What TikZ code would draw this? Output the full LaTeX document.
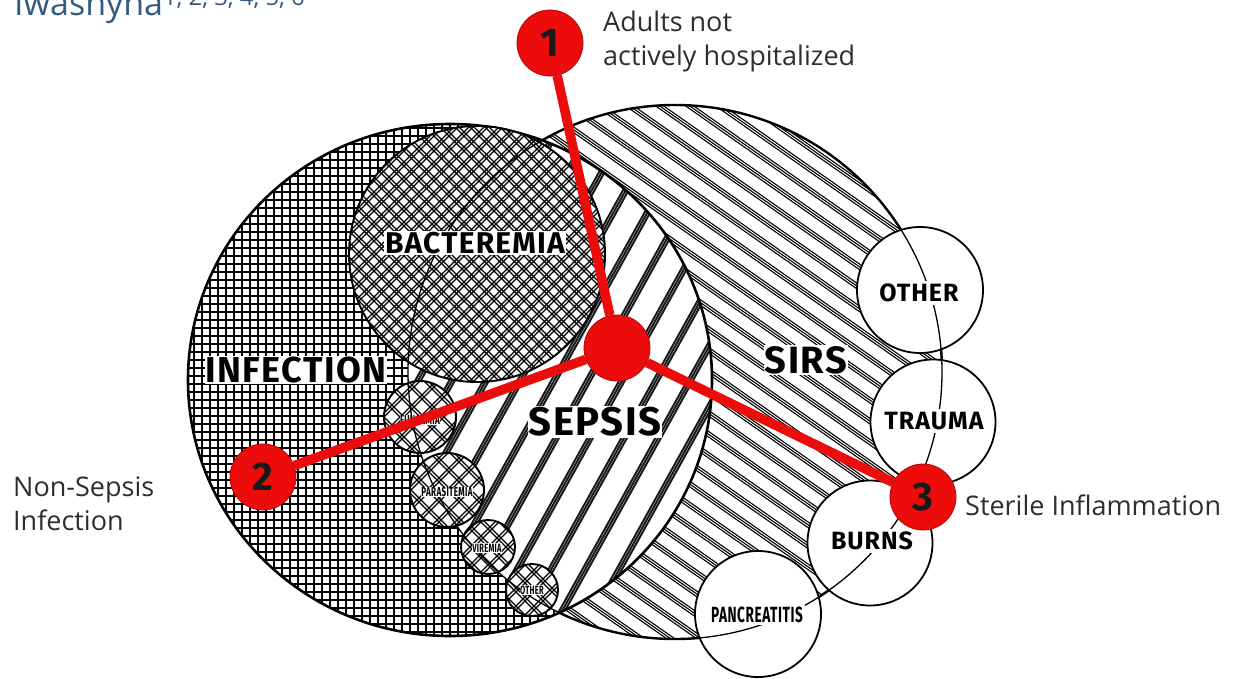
\documentclass[tikz,border=0pt]{standalone}
\usepackage{fontspec}
\usepackage{graphicx}
\setmainfont{Open Sans}
\newfontfamily\diafont{Fira Sans}[LetterSpace=4]
\definecolor{Mark}{RGB}{236,12,12}
\definecolor{Note}{HTML}{2E2E2E}
\definecolor{Byline}{HTML}{35597F}
\newcommand{\slimtext}[1]{\scalebox{0.62}[1]{#1}}

\begin{document}
\begin{tikzpicture}[
  x=1pt, y=-1pt,
  disc/.style={circle, fill=white, inner sep=0pt},
  % hatched circle: double lines on both diagonals, #1 = period
  cross/.style={circle, draw=black, line width=1.9pt, fill=white, inner sep=0pt,
    path picture={
      \begin{scope}[shift={(path picture bounding box.center)}, line width=1.3pt]
        \foreach \k in {-14,...,14} {
          \draw (\k*#1-200,-200) -- (\k*#1+200,200);
          \draw (\k*#1-196,-200) -- (\k*#1+204,200);
          \draw (\k*#1-200,200) -- (\k*#1+200,-200);
          \draw (\k*#1-196,200) -- (\k*#1+204,-200);}
      \end{scope}}},
  lab/.style={font=\diafont\bfseries\fontsize{#1}{#1}\selectfont, inner sep=1pt, fill=white},
  dot/.style={circle, fill=Mark, draw=Mark!75!black, line width=0.8pt, minimum size=66pt,
               inner sep=0pt, text=black!90, font=\diafont\bfseries\fontsize{40}{40}\selectfont},
  link/.style={Mark, line width=9.5pt},
  note/.style={font=\fontsize{27}{34}\selectfont, text=Note, align=left, inner sep=0pt}]

\useasboundingbox (0,0) rectangle (1234,678);

% byline, cut by the top edge
\node[anchor=base west, inner sep=0pt, text=Byline, font=\fontsize{34}{34}\selectfont]
  (byline) at (14,15) {Iwashyna\textsuperscript{1, 2, 3, 4, 5, 6}};

% ================= SIRS =================
\begin{scope}
  \clip (675,372) circle[radius=267];
  \foreach \o in {-430,-400,...,900}
    \foreach \t in {0,4,8}
      \draw[line width=1.1pt] (\o+\t,60) -- ++(1000,700);
\end{scope}
\draw[line width=2.4pt] (675,372) circle[radius=267];

% ================= infection =================
\fill[white] (450,380) ellipse[x radius=262, y radius=256];
\begin{scope}
  \clip (450,380) ellipse[x radius=262, y radius=256];
  \foreach \g in {0,...,66} {
    \draw[line width=1.8pt] (180,120+8*\g) -- (720,120+8*\g);
    \draw[line width=1.8pt] (186+8*\g,110) -- (186+8*\g,650);}
\end{scope}

% ================= sepsis: overlap of the two =================
\begin{scope}
  \clip (450,380) ellipse[x radius=262, y radius=256];
  \clip (675,372) circle[radius=267];
  \fill[white] (380,100) rectangle (730,660);
  \foreach \o in {90,124,...,740}
    \foreach \t in {0,2.8,5.6}
      \draw[line width=2pt, black!90] (\o+\t,660) -- ++(300,-540);
\end{scope}
\draw[line width=2.6pt] (450,380) ellipse[x radius=262, y radius=256];

% hatched sub-circles
\node[cross=15, minimum size=256pt] (bact) at (477,254) {};
\node[cross=20, minimum size=72pt] (fung) at (420,417) {};
\node[cross=20, minimum size=74pt] (para) at (447,490) {};
\node[cross=18, minimum size=54pt] (vir) at (488,547) {};
\node[cross=18, minimum size=52pt] (oth) at (532,590) {};

% white circles on the SIRS rim
\node[disc, minimum size=126pt] (other) at (920,290) {};
\node[disc, minimum size=125pt] (trauma) at (933,422) {};
\node[disc, minimum size=126pt] (panc) at (758,614) {};
\node[disc, minimum size=125pt] (burns) at (870,543) {};
\foreach \n/\r in {other/63,trauma/62.5,panc/63,burns/62.5}
  \draw[line width=1.8pt] (\n.center) circle[radius=\r];

% thin rim of SIRS through the small circles
\draw[line width=1.3pt] (675,372) circle[radius=267];

% labels
\node[lab=30] (bactlab) at (475,243) {BACTEREMIA};
\node[lab=36] (inflab) at (296,370) {INFECTION};
\node[lab=40] (seplab) at (595,422) {SEPSIS};
\node[lab=38] (sirslab) at (806,360) {SIRS};
\node[lab=25, inner sep=3pt] (othlab) at (919,293) {OTHER};
\node[lab=25, inner sep=3pt] (traumalab) at (934,421) {TRAUMA};
\node[lab=25, inner sep=3pt] (burnslab) at (872,541) {BURNS};
\node[lab=22, inner sep=2pt] (panclab) at (757,615) {\slimtext{PANCREATITIS}};
\node[lab=13, inner sep=0.5pt] (funglab) at (420,420) {\slimtext{FUNGEMIA}};
\node[lab=13, inner sep=0.5pt] (paralab) at (447,492) {\slimtext{PARASITEMIA}};
\node[lab=12, inner sep=0.5pt] (virlab) at (487,548) {\slimtext{VIREMIA}};
\node[lab=12, inner sep=0.5pt] (othsmall) at (532,590) {\slimtext{OTHER}};

% ================= red markers =================
\node[dot] (hub) at (617,348) {};
\node[dot] (m1) at (550,43) {1};
\node[dot] (m2) at (263,477) {2};
\node[dot] (m3) at (923,497) {3};
\draw[link] (hub) -- (m1);
\draw[link] (hub) -- (m2);
\draw[link] (hub) -- (m3);

\node[note, anchor=north west] (adults) at (603,11) {Adults not\\actively hospitalized};
\node[note, anchor=north west] (nonsep) at (13,476) {Non-Sepsis\\Infection};
\node[note, anchor=base west] (sterile) at (965,515) {Sterile Inflammation};
\end{tikzpicture}
\end{document}
